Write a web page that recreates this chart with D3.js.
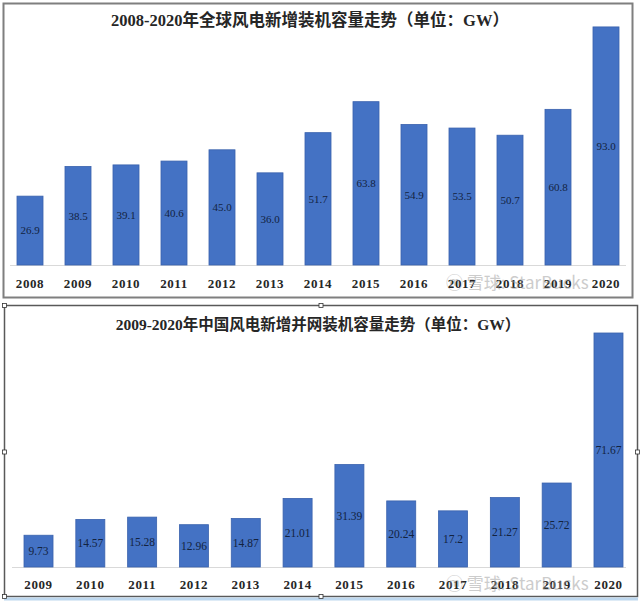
<!DOCTYPE html>
<html><head><meta charset="utf-8">
<script src="https://cdn.jsdelivr.net/npm/d3@7/dist/d3.min.js"></script>
<style>
html,body{margin:0;padding:0;background:#fff;}
svg{display:block;}
</style></head>
<body>
<svg id="c" width="640" height="601"></svg>
<script>
const globalYears = ["2008","2009","2010","2011","2012","2013","2014","2015","2016","2017","2018","2019","2020"];
const globalValues = [26.9,38.5,39.1,40.6,45.0,36.0,51.7,63.8,54.9,53.5,50.7,60.8,93.0];
const globalLabels = ["26.9","38.5","39.1","40.6","45.0","36.0","51.7","63.8","54.9","53.5","50.7","60.8","93.0"];
const chinaYears = ["2009","2010","2011","2012","2013","2014","2015","2016","2017","2018","2019","2020"];
const chinaValues = [9.73,14.57,15.28,12.96,14.87,21.01,31.39,20.24,17.2,21.27,25.72,71.67];
const chinaLabels = ["9.73","14.57","15.28","12.96","14.87","21.01","31.39","20.24","17.2","21.27","25.72","71.67"];
const titles = ["2008-2020年全球风电新增装机容量走势（单位：GW）","2009-2020年中国风电新增并网装机容量走势（单位：GW）"];

const svg = d3.select("#c");
const serif = "'Liberation Serif','Times New Roman','Noto Sans CJK SC',serif";
const barColor = "#4472c4";

function panel(cfg){
  const g = svg.append("g");
  g.append("rect").attr("x",cfg.box[0]).attr("y",cfg.box[1])
    .attr("width",cfg.box[2]-cfg.box[0]).attr("height",cfg.box[3]-cfg.box[1])
    .attr("fill","#fff").attr("stroke",cfg.frameColor).attr("stroke-width",cfg.frameW);
  const x = d3.scaleBand().domain(cfg.cats).range(cfg.xr).paddingInner(cfg.pad).paddingOuter(cfg.pad/2);
  const y = d3.scaleLinear().domain([0,cfg.ymax]).range([cfg.base, cfg.base - cfg.pxPer*cfg.ymax]);
  g.append("line").attr("x1",cfg.lineX[0]).attr("x2",cfg.lineX[1])
    .attr("y1",cfg.base+0.5).attr("y2",cfg.base+0.5).attr("stroke","#d9d9d9").attr("stroke-width",1);
  g.selectAll("rect.bar").data(cfg.vals).join("rect").attr("class","bar")
    .attr("x",(d,i)=>x(cfg.cats[i])).attr("width",x.bandwidth())
    .attr("y",d=>y(d)).attr("height",d=>cfg.base-y(d))
    .attr("fill",barColor).attr("stroke","#3a62ad").attr("stroke-width",0.8);
  g.selectAll("text.val").data(cfg.vals).join("text").attr("class","val")
    .attr("x",(d,i)=>x(cfg.cats[i])+x.bandwidth()/2)
    .attr("y",d=>(y(d)+cfg.base)/2)
    .attr("dy","0.35em").attr("text-anchor","middle")
    .attr("font-family",serif).attr("font-size",cfg.valSize).attr("fill","#13233f")
    .text((d,i)=>cfg.labels[i]);
  const ax = d3.axisBottom(x).tickSize(0).tickPadding(0);
  const axg = g.append("g").attr("transform",`translate(0,${cfg.labelY})`).call(ax);
  axg.select(".domain").remove();
  axg.selectAll("text").attr("font-family",serif).attr("font-size",13).attr("font-weight","bold")
    .attr("fill","#262626").attr("dy","0.35em").attr("y",0).attr("letter-spacing","0.6");
  g.append("text").attr("x",cfg.titleX).attr("y",cfg.titleY).attr("dy","0.35em")
    .attr("text-anchor","middle").attr("font-family",serif).attr("font-size",cfg.titleSize)
    .attr("font-weight","bold").attr("fill","#262626").text(cfg.title);
  return g;
}

panel({box:[3.5,3.5,632.5,297.5], frameColor:"#7f7f7f", frameW:2,
  cats:globalYears, vals:globalValues, labels:globalLabels,
  xr:[6,630], pad:0.458, base:265, pxPer:2.56, ymax:100,
  lineX:[10,626], labelY:283, valSize:11,
  title:titles[0], titleX:310, titleY:20, titleSize:16.5});

panel({box:[4.5,305.5,637.5,596.5], frameColor:"#595959", frameW:1.5,
  cats:chinaYears, vals:chinaValues, labels:chinaLabels,
  xr:[12.6,634.4], pad:0.44, base:567, pxPer:3.265, ymax:75,
  lineX:[12,626], labelY:584, valSize:11.5,
  title:titles[1], titleX:318, titleY:325, titleSize:15.5});

svg.append("rect").attr("x",4).attr("y",597.5).attr("width",634).attr("height",3).attr("fill","#bdd7ee");
const handles = [[4.5,305.5],[321,305.5],[4.5,452],[4.5,596.5],[321,596.5],[637.5,452]];
svg.selectAll("rect.h").data(handles).join("rect").attr("class","h")
  .attr("x",d=>d[0]-2).attr("y",d=>d[1]-2).attr("width",4).attr("height",4)
  .attr("fill","#fff").attr("stroke","#333").attr("stroke-width",0.8);

const wm = [[446,283],[446,584]];
svg.selectAll("text.wm").data(wm).join("text").attr("class","wm")
  .attr("x",d=>d[0]).attr("y",d=>d[1]).attr("dy","0.35em")
  .attr("font-family","'Noto Sans CJK SC','Noto Sans',sans-serif").attr("font-size",17)
  .attr("fill","#9a9a9a").attr("opacity",0.5)
  .text("\u24DC 雪球: StarBucks");
</script>
</body></html>
